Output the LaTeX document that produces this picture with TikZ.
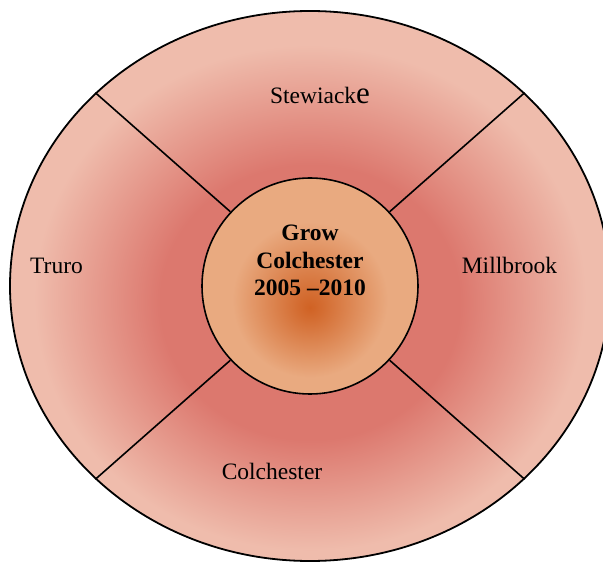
\documentclass[tikz,border=0pt]{standalone}
\usepackage{fontspec}
\setmainfont{Liberation Serif}
\usetikzlibrary{shapes.geometric}

\definecolor{rimpink}{RGB}{239,188,172}
\definecolor{rimred}{RGB}{220,120,110}
\definecolor{hubpeach}{RGB}{233,170,128}
\definecolor{huborange}{RGB}{208,98,36}

\pgfdeclareradialshading{rimshade}{\pgfpoint{0bp}{-2bp}}{color(0bp)=(rimred); color(12.5bp)=(rimred); color(23bp)=(rimpink); color(50bp)=(rimpink)}
\pgfdeclareradialshading{hubshade}{\pgfpoint{0bp}{-5bp}}{color(0bp)=(huborange); color(3bp)=(huborange!85!hubpeach); color(18bp)=(hubpeach); color(50bp)=(hubpeach)}

\begin{document}
\begin{tikzpicture}[x=1pt,y=1pt,
    rim/.style={ellipse, draw=black, line width=1.8pt, shading=rimshade,
        minimum width=600, minimum height=550, inner sep=0pt},
    hub/.style={circle, draw=black, line width=1.6pt, shading=hubshade,
        minimum size=216, inner sep=0pt},
    divider/.style={black, line width=1.6pt},
    place/.style={anchor=base, inner sep=0pt, font=\fontsize{23.5}{28}\selectfont},
    title/.style={align=center, inner sep=0pt, font=\fontsize{23.5}{27.7}\selectfont\bfseries}]
    \useasboundingbox (0,0) rectangle (603,563);
    \clip (0,0) rectangle (603,563);
    % outer ring and centre
    \node[rim] (ring) at (310,277) {};
    \node[hub] (hub) at (310,277) {};
    \draw[divider] (hub.137) -- (ring.138);
    \draw[divider] (hub.43) -- (ring.42);
    \draw[divider] (hub.223) -- (ring.222);
    \draw[divider] (hub.317) -- (ring.318);
    \node[title] (goal) at ([yshift=25.5]hub.center) {Grow\\Colchester\\2005 –2010};
    % the four areas
    \node[place] (stewiacke) at (320,459) {Stewiack{\fontsize{31}{31}\selectfont e}};
    \node[place] (truro) at (56.5,289) {Truro};
    \node[place] (millbrook) at (509.5,289) {Millbrook};
    \node[place] (colchester) at (272,84) {Colchester};
\end{tikzpicture}
\end{document}
